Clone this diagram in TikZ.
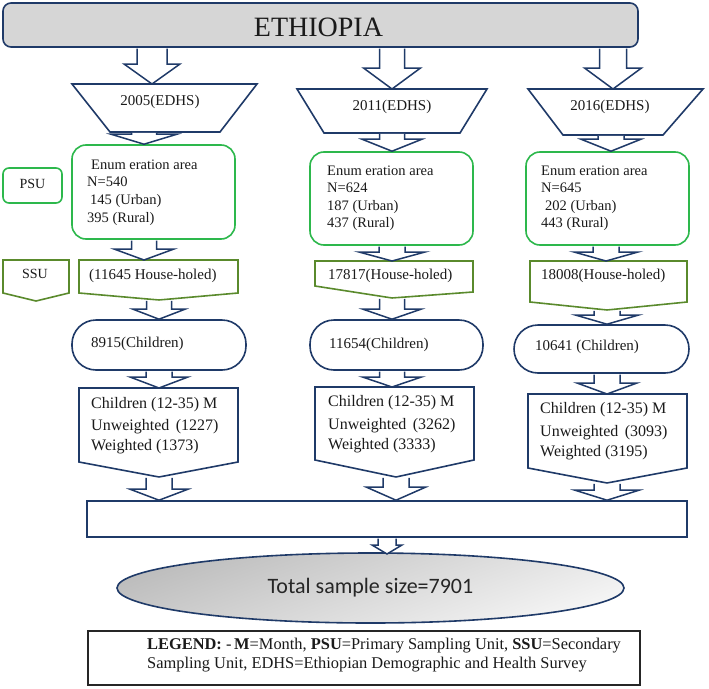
\documentclass[tikz,border=0pt]{standalone}
\usepackage{fontspec}
\setmainfont{Liberation Serif}
\newfontfamily\carlito{Carlito}
\usetikzlibrary{calc,shapes.geometric}
\definecolor{cNavy}{HTML}{1F3A68}
\definecolor{cGreen}{HTML}{2DB84C}
\definecolor{cOlive}{HTML}{5A8A2C}
\definecolor{cGrayFill}{HTML}{D6D6D6}
\definecolor{cText}{HTML}{1A1A1A}
\tikzset{
  blueline/.style={draw=cNavy, line width=1.6pt, line join=miter},
  blockarrow/.style={draw=cNavy, line width=1.5pt, fill=white, line join=miter},
  greenbox/.style={draw=cGreen, line width=1.6pt, rounded corners=14pt, inner sep=0pt},
  olivebox/.style={draw=cOlive, line width=1.6pt, line join=miter},
  stadium/.style={draw=cNavy, line width=1.6pt, rounded corners=24pt, inner sep=0pt},
  txt/.style={inner sep=0pt, text=cText, anchor=west},
  ctxt/.style={inner sep=0pt, text=cText, anchor=center},
  fA/.style={font=\fontsize{14.5}{18}\selectfont},
  fT/.style={font=\fontsize{15}{18}\selectfont},
  fB/.style={font=\fontsize{15}{18}\selectfont},
  fC/.style={font=\fontsize{16}{20}\selectfont},
}
\newcommand\barrow[5]{%
  \draw[blockarrow] let \p1=(#1), \p2=(#2) in
    (\x2-#3pt,\y1-0.8pt) -- (\x2-#3pt,\y2+#5pt) -- (\x2-#4pt,\y2+#5pt) -- (\x2,\y2)
    -- (\x2+#4pt,\y2+#5pt) -- (\x2+#3pt,\y2+#5pt) -- (\x2+#3pt,\y1-0.8pt);}
\begin{document}
\begin{tikzpicture}[x=1pt,y=-1pt]
\useasboundingbox (0,0) rectangle (709,688);
\fill[white] (0,0) rectangle (709,688);

% title
\node[draw=cNavy, line width=1.6pt, fill=cGrayFill, rounded corners=8pt,
      minimum width=635pt, minimum height=44pt, inner sep=0pt] (title) at (320.5,25) {};
\node[ctxt, font=\fontsize{28}{30}\selectfont] (tTitle) at (318.5,27.5) {ETHIOPIA};

% trapezoids
\draw[blueline] (72,84) -- (257,84) -- (220,132) -- (110,132) -- cycle;
\draw[blueline] (297,89) -- (487,89) -- (460,133) -- (324,133) -- cycle;
\draw[blueline] (528,89) -- (703,89) -- (663,135) -- (563,135) -- cycle;
\coordinate (trap1-t) at (152,84);
\coordinate (trap2-t) at (392,89);
\coordinate (trap3-t) at (613,89);
\coordinate (trap1-b) at (144,132);
\coordinate (trap2-b) at (392,133);
\coordinate (trap3-b) at (611,135);
\node[ctxt, fT] (y1) at (160,102) {2005(EDHS)};
\node[ctxt, fT] (y2) at (392,107) {2011(EDHS)};
\node[ctxt, fT] (y3) at (610,107) {2016(EDHS)};

% PSU and enumeration areas
\node[greenbox, rounded corners=6pt, minimum width=59pt, minimum height=35pt] (psu) at (32.5,185.5) {};
\node[ctxt, font=\fontsize{14}{16}\selectfont] (tpsu) at (32.5,184) {PSU};
\node[greenbox, minimum width=163pt, minimum height=94pt] (enum1) at (153.5,192) {};
\node[greenbox, minimum width=163pt, minimum height=93pt] (enum2) at (391.5,198.5) {};
\node[greenbox, minimum width=163pt, minimum height=93pt] (enum3) at (607.5,198.5) {};
\node[txt, fA] (e1a) at (91,165) {Enum eration area};
\node[txt, fA] (e1b) at (87,182) {N=540};
\node[txt, fA] (e1c) at (90,201) {145 (Urban)};
\node[txt, fA] (e1d) at (87,219) {395 (Rural)};
\node[txt, fA] (e2a) at (327,171) {Enum eration area};
\node[txt, fA] (e2b) at (327,188) {N=624};
\node[txt, fA] (e2c) at (327,207) {187 (Urban)};
\node[txt, fA] (e2d) at (327,224) {437 (Rural)};
\node[txt, fA] (e3a) at (541,171) {Enum eration area};
\node[txt, fA] (e3b) at (541,188) {N=645};
\node[txt, fA] (e3c) at (545,207) {202 (Urban)};
\node[txt, fA] (e3d) at (541,224) {443 (Rural)};

% SSU and households
\draw[olivebox] (3,260) -- (69,260) -- (69,293) -- (36,301) -- (3,293) -- cycle;
\node[ctxt, font=\fontsize{14}{16}\selectfont] (tssu) at (35,274) {SSU};
\draw[olivebox] (79,260) -- (238,260) -- (238,293) -- (159,300) -- (79,293) -- cycle;
\draw[olivebox] (315,261) -- (473,261) -- (473,292) -- (392,298) -- (315,286) -- cycle;
\draw[olivebox] (530,261) -- (687,261) -- (687,302) -- (607,310) -- (530,302) -- cycle;
\coordinate (hh1-t) at (144,260);
\coordinate (hh2-t) at (392,261);
\coordinate (hh3-t) at (606,261);
\coordinate (hh1-b) at (159,300);
\coordinate (hh2-b) at (392,298);
\coordinate (hh3-b) at (607,310);
\node[txt, fB] (h1) at (89,276) {(11645 House-holed)};
\node[txt, fB] (h2) at (328,276) {17817(House-holed)};
\node[txt, fB] (h3) at (541,276) {18008(House-holed)};

% children
\node[stadium, minimum width=174pt, minimum height=50pt] (ch1) at (159,345) {};
\node[stadium, minimum width=173pt, minimum height=50pt] (ch2) at (396.5,345) {};
\node[stadium, minimum width=175pt, minimum height=48pt] (ch3) at (601.5,349) {};
\node[txt, fB] (c1) at (91,344) {8915(Children)};
\node[txt, fB] (c2) at (329,345) {11654(Children)};
\node[txt, fB] (c3) at (535,347) {10641 (Children)};

% children 12-35 months
\draw[blueline] (79,388) -- (238,388) -- (238,462) -- (159,477) -- (79,462) -- cycle;
\draw[blueline] (315,387) -- (474,387) -- (474,460) -- (396,477) -- (315,460) -- cycle;
\draw[blueline] (528,394) -- (687,394) -- (687,468) -- (607,483) -- (528,468) -- cycle;
\coordinate (p1-t) at (159,388);
\coordinate (p2-t) at (392,387);
\coordinate (p3-t) at (607,394);
\coordinate (p1-b) at (159,477);
\coordinate (p2-b) at (396,477);
\coordinate (p3-b) at (607,483);
\node[txt, fC] (k1a) at (91,405) {Children (12-35) M};
\node[txt, fC] (k1b) at (91,427) {Unweighted\hspace{0.4em}(1227)};
\node[txt, fC] (k1c) at (91,447) {Weighted (1373)};
\node[txt, fC] (k2a) at (328,403) {Children (12-35) M};
\node[txt, fC] (k2b) at (328,426) {Unweighted\hspace{0.4em}(3262)};
\node[txt, fC] (k2c) at (328,446) {Weighted (3333)};
\node[txt, fC] (k3a) at (540,410) {Children (12-35) M};
\node[txt, fC] (k3b) at (540,433) {Unweighted\hspace{0.4em}(3093)};
\node[txt, fC] (k3c) at (540,453) {Weighted (3195)};

% merge box, total and legend
\node[draw=cNavy, line width=1.6pt, minimum width=600pt, minimum height=36pt, inner sep=0pt] (big) at (387,519) {};
\node[ellipse, draw=cNavy, line width=1.6pt, minimum width=507pt, minimum height=70pt, inner sep=0pt,
      top color=black!26, bottom color=black!4, shading angle=20,
      text=black!85, font=\carlito\fontsize{22}{24}\selectfont] (ell) at (370.5,588) {Total sample size=7901};
\coordinate (ell-t) at (387,554);
\node[draw=black!85, line width=1.1pt, minimum width=552pt, minimum height=54pt, inner sep=0pt] (legend) at (364,658) {};
\node[txt, font=\fontsize{16.4}{19}\selectfont] (lg1) at (147,646)
  {\textbf{LEGEND:} -\,\textbf{M}=Month, \textbf{PSU}=Primary Sampling Unit, \textbf{SSU}=Secondary};
\node[txt, font=\fontsize{16.4}{19}\selectfont] (lg2) at (147,665)
  {Sampling Unit, EDHS=Ethiopian Demographic and Health Survey};

% block arrows
\barrow{title.south}{trap1-t}{15}{28}{20}
\barrow{title.south}{trap2-t}{12.5}{28.5}{21}
\barrow{title.south}{trap3-t}{13.5}{28.5}{21}
\barrow{trap1-b}{enum1.north -| trap1-b}{12.5}{33}{10}
\barrow{trap2-b}{enum2.north -| trap2-b}{12.5}{30}{12}
\barrow{trap3-b}{enum3.north -| trap3-b}{13}{30}{12}
\barrow{enum1.south}{hh1-t}{12.5}{30}{11}
\barrow{enum2.south}{hh2-t}{13}{33}{9}
\barrow{enum3.south}{hh3-t}{13}{32}{9}
\barrow{hh1-b}{ch1.north -| hh1-b}{12.5}{26}{10}
\barrow{hh2-b}{ch2.north -| hh2-b}{12.5}{29}{10}
\barrow{hh3-b}{ch3.north -| hh3-b}{13}{31}{9}
\barrow{ch1.south}{p1-t}{13}{29}{11}
\barrow{ch2.south}{p2-t}{12.5}{29.5}{10}
\barrow{ch3.south}{p3-t}{13}{30}{11}
\barrow{p1-b}{big.north -| p1-b}{13}{29}{11}
\barrow{p2-b}{big.north -| p2-b}{13}{29.5}{13}
\barrow{p3-b}{big.north -| p3-b}{13}{32}{10}
\barrow{big.south}{ell-t}{9}{15}{9}
\end{tikzpicture}
\end{document}
